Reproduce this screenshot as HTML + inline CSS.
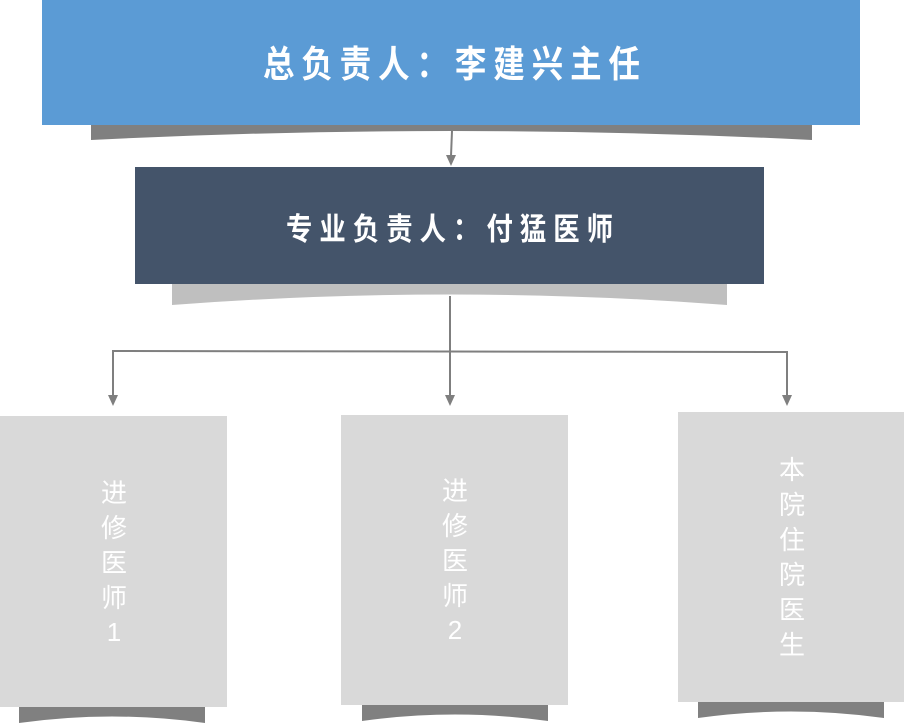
<!DOCTYPE html>
<html><head><meta charset="utf-8"><style>
html,body{margin:0;padding:0;background:#fff;}
svg{display:block;}
text{font-family:"Liberation Sans","Noto Sans CJK SC",sans-serif;fill:#fff;}
</style></head><body>
<svg width="904" height="723" viewBox="0 0 904 723" xmlns="http://www.w3.org/2000/svg">
<path d="M91,124 L812,124 L812,140 Q452,122 91,140 Z" fill="#808080"/>
<rect x="42" y="0" width="818" height="125" fill="#5b9bd5"/>
<text transform="scale(0.85,1)" x="309.4" y="77" font-size="37" font-weight="bold" textLength="443.5" lengthAdjust="spacing">总负责人：李建兴主任</text>
<line x1="452" y1="131" x2="451" y2="156" stroke="#7f7f7f" stroke-width="2"/>
<path d="M446,155 L456,155 L451,166 Z" fill="#7f7f7f"/>
<path d="M172,283 L727,283 L727,305 Q450,284 172,305 Z" fill="#bfbfbf"/>
<rect x="135" y="167" width="629" height="117" fill="#44546a"/>
<text transform="scale(0.85,1)" x="336.5" y="240" font-size="31" font-weight="bold" textLength="384.7" lengthAdjust="spacing">专业负责人：付猛医师</text>
<g stroke="#7f7f7f" stroke-width="2" fill="none">
<line x1="450" y1="296" x2="450" y2="396"/>
<polyline points="113,396 113,351 787,352 787,396"/>
</g>
<g fill="#7f7f7f">
<path d="M108,395 L118,395 L113,406 Z"/>
<path d="M445,395 L455,395 L450,406 Z"/>
<path d="M782,395 L792,395 L787,406 Z"/>
</g>
<path d="M19,706 L205,706 L205,723 Q112,710 19,723 Z" fill="#808080"/>
<path d="M362,704 L548,704 L548,721 Q455,708 362,721 Z" fill="#808080"/>
<path d="M698,701 L884,701 L884,718 Q791,705 698,718 Z" fill="#808080"/>
<rect x="0" y="416" width="227" height="291" fill="#d9d9d9"/>
<rect x="341" y="415" width="227" height="290" fill="#d9d9d9"/>
<rect x="678" y="412" width="226" height="290" fill="#d9d9d9"/>
<g font-size="26" text-anchor="middle">
<text x="114" y="502">进</text><text x="114" y="537">修</text><text x="114" y="572">医</text><text x="114" y="607">师</text><text x="114" y="641">1</text>
<text x="455" y="500">进</text><text x="455" y="535">修</text><text x="455" y="570">医</text><text x="455" y="605">师</text><text x="455" y="639">2</text>
<text x="792" y="479">本</text><text x="792" y="514">院</text><text x="792" y="549">住</text><text x="792" y="584">院</text><text x="792" y="619">医</text><text x="792" y="654">生</text>
</g>
</svg>
</body></html>
